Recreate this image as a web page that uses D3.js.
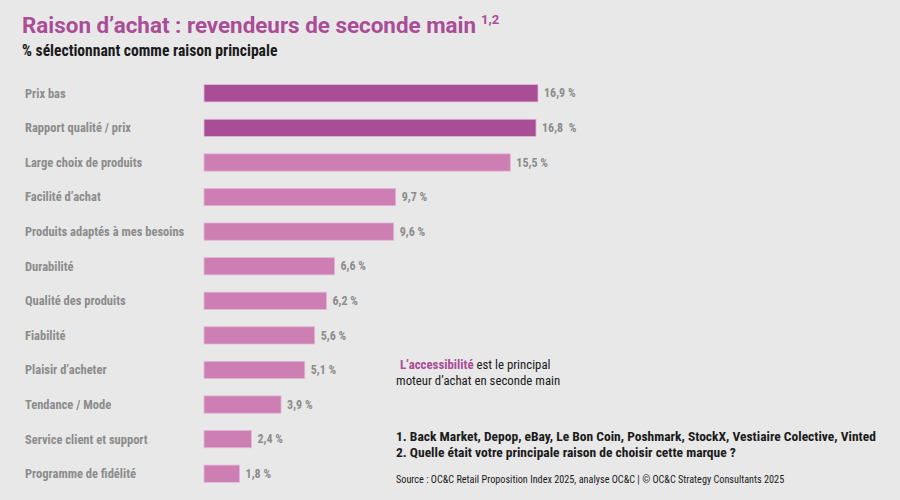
<!DOCTYPE html>
<html>
<head>
<meta charset="utf-8">
<script src="https://cdn.jsdelivr.net/npm/d3@7"></script>
<style>
  body { margin: 0; background: #e8e8e8; }
  svg { display: block; font-family: "Liberation Sans Narrow", "Roboto Condensed", Roboto, sans-serif; }
</style>
</head>
<body>
<svg id="chart" width="900" height="500"></svg>
<script>
// reasons, in display order
const reasons = ['Prix bas', 'Rapport qualité / prix', 'Large choix de produits', 'Facilité d’achat',
    'Produits adaptés à mes besoins', 'Durabilité', 'Qualité des produits', 'Fiabilité',
    'Plaisir d’acheter', 'Tendance / Mode', 'Service client et support', 'Programme de fidélité'];
const shares = [16.9, 16.8, 15.5, 9.7, 9.6, 6.6, 6.2, 5.6, 5.1, 3.9, 2.4, 1.8];
const valueLabels = ['16,9 %', '16,8  %', '15,5 %', '9,7 %', '9,6 %', '6,6 %', '6,2 %', '5,6 %',
    '5,1 %', '3,9 %', '2,4 %', '1,8 %'];
const highlighted = ['Prix bas', 'Rapport qualité / prix'];

const data = reasons.map((r, i) => ({ reason: r, value: shares[i], label: valueLabels[i] }));

const svg = d3.select('#chart');
const purple = '#a84d96', pink = '#cd7fb3', grey = '#8c8c8c';

// scales
const x = d3.scaleLinear().domain([0, 16.9]).range([204, 538]);
const y = d3.scaleBand().domain(reasons).range([76, 491]).paddingInner(0.5).paddingOuter(0.25);

// title
const title = svg.append('text').attr('x', 22).attr('y', 33)
    .attr('fill', purple).attr('font-family', 'Roboto, sans-serif')
    .attr('font-size', 22.4).attr('font-weight', 'bold');
title.append('tspan').text('Raison d’achat : revendeurs de seconde main');
title.append('tspan').attr('font-size', 13).attr('dx', 5).attr('dy', -9).text('1,2');

svg.append('text').attr('x', 22).attr('y', 56)
    .attr('font-size', 15.6).attr('font-weight', 'bold').attr('fill', '#1a1a1a')
    .text('% sélectionnant comme raison principale');

// category labels
svg.append('g').selectAll('text')
    .data(data).enter()
    .append('text')
    .attr('x', 25)
    .attr('y', d => y(d.reason) + y.bandwidth() / 2)
    .attr('dy', '0.35em')
    .attr('font-size', 12.5).attr('font-weight', 'bold').attr('fill', grey)
    .text(d => d.reason);

// bars
svg.append('g').selectAll('rect')
    .data(data).enter()
    .append('rect')
    .attr('x', x(0))
    .attr('y', d => y(d.reason))
    .attr('width', d => x(d.value) - x(0))
    .attr('height', y.bandwidth())
    .attr('fill', d => highlighted.includes(d.reason) ? purple : pink)
    .attr('stroke', '#e3b9d6').attr('stroke-width', 0.8);

// value labels
svg.append('g').selectAll('text')
    .data(data).enter()
    .append('text')
    .attr('x', d => x(d.value) + 6)
    .attr('y', d => y(d.reason) + y.bandwidth() / 2)
    .attr('dy', '0.35em')
    .attr('font-size', 12).attr('font-weight', 'bold').attr('fill', grey)
    .style('white-space', 'pre')
    .text(d => d.label);

// annotation
const note = svg.append('text').attr('x', 400).attr('y', 369).attr('font-size', 12.8).attr('fill', '#1a1a1a');
note.append('tspan').attr('fill', purple).attr('font-weight', 'bold').text('L’accessibilité');
note.append('tspan').text(' est le principal');
svg.append('text').attr('x', 396).attr('y', 385).attr('font-size', 12.8).attr('fill', '#1a1a1a')
    .text('moteur d’achat en seconde main');

// footnotes
svg.append('text').attr('x', 396).attr('y', 441).attr('font-size', 13.5).attr('font-weight', 'bold').attr('fill', '#1a1a1a')
    .text('1. Back Market, Depop, eBay, Le Bon Coin, Poshmark, StockX, Vestiaire Colective, Vinted');
svg.append('text').attr('x', 396).attr('y', 457).attr('font-size', 13.5).attr('font-weight', 'bold').attr('fill', '#1a1a1a')
    .text('2. Quelle était votre principale raison de choisir cette marque ?');
svg.append('text').attr('x', 396).attr('y', 483).attr('font-size', 10.2).attr('fill', '#1a1a1a')
    .text('Source : OC&C Retail Proposition Index 2025, analyse OC&C | © OC&C Strategy Consultants 2025');
</script>
</body>
</html>
